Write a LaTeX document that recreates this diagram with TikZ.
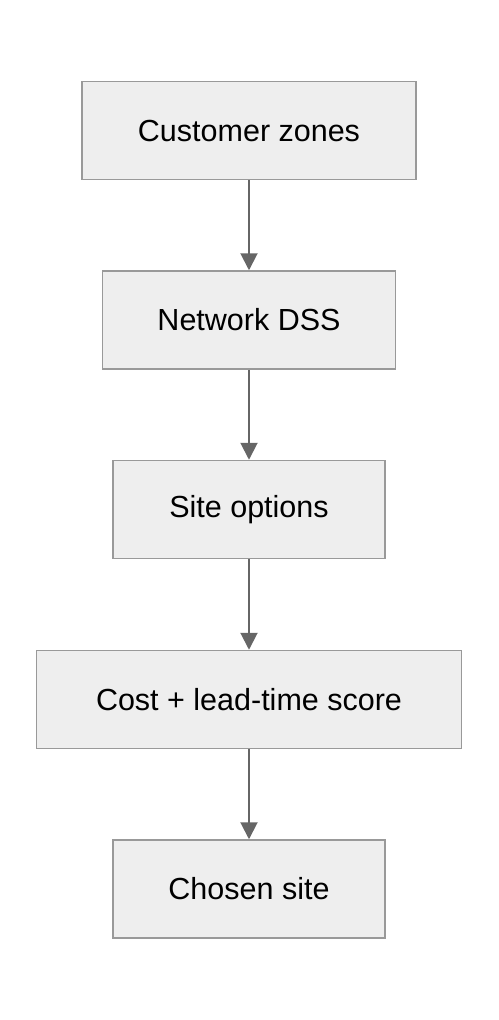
\documentclass[tikz,border=0pt]{standalone}
\usepackage{fontspec}
\setmainfont{Liberation Sans}
\usetikzlibrary{arrows.meta}
\definecolor{boxfill}{HTML}{EEEEEE}
\definecolor{boxline}{HTML}{999999}
\definecolor{arrowc}{HTML}{666666}
\tikzset{
  stepbox/.style={draw=boxline, fill=boxfill, line width=1.5pt, minimum height=98pt, inner sep=0pt, font=\fontsize{30.5}{36}\selectfont, text=black},
  flow/.style={draw=arrowc, line width=2pt, -{Triangle[length=17pt,width=17pt]}}
}
\begin{document}
\begin{tikzpicture}[x=1pt,y=-1pt]
\useasboundingbox (0,0) rectangle (498,1020);
\node[stepbox, minimum width=334pt] (a) at (249,130.5) {Customer zones};
\node[stepbox, minimum width=293pt] (b) at (249,320) {Network DSS};
\node[stepbox, minimum width=272pt] (c) at (249,509.5) {Site options};
\node[stepbox, minimum width=425pt] (d) at (249,699.5) {Cost + lead-time score};
\node[stepbox, minimum width=272pt] (e) at (249,889) {Chosen site};
\draw[flow] (a) -- (b);
\draw[flow] (b) -- (c);
\draw[flow] (c) -- (d);
\draw[flow] (d) -- (e);
\end{tikzpicture}
\end{document}
